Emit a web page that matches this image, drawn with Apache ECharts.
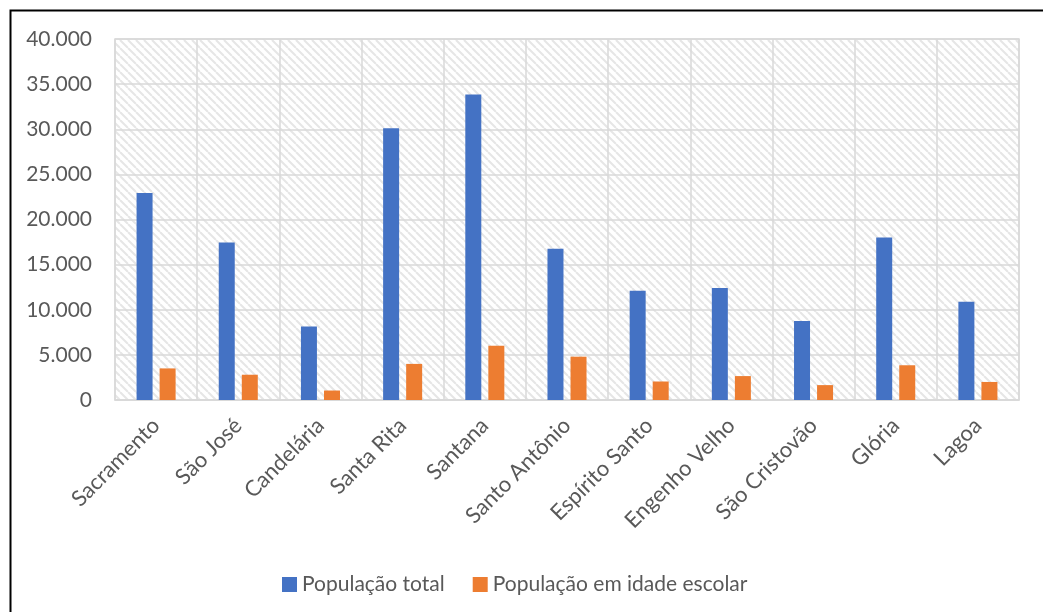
<!DOCTYPE html>
<html>
<head>
<meta charset="utf-8">
<script src="https://cdn.jsdelivr.net/npm/echarts@6/dist/echarts.min.js"></script>
<style>
  html, body { margin: 0; padding: 0; background: #fff; }
  #chart { width: 1043px; height: 612px; }
</style>
</head>
<body>
<div id="chart"></div>
<script>
var bairros = ['Sacramento', 'São José', 'Candelária', 'Santa Rita', 'Santana', 'Santo Antônio',
  'Espírito Santo', 'Engenho Velho', 'São Cristovão', 'Glória', 'Lagoa']
var popTotal = [22950, 17450, 8150, 30100, 33850, 16750, 12100, 12400, 8750, 18000, 10900]
var popEscolar = [3500, 2800, 1050, 4000, 6000, 4800, 2050, 2650, 1650, 3850, 2000]
var yTicks = { min: 0, max: 40000, interval: 5000 }

// hatched background for the plot area
function makeHatch() {
  var s = 8
  var c = document.createElement('canvas')
  c.width = s
  c.height = s
  var ctx = c.getContext('2d')
  ctx.fillStyle = '#ffffff'
  ctx.fillRect(0, 0, s, s)
  ctx.strokeStyle = '#e6e6e6'
  ctx.lineWidth = 2
  for (var k = -s; k <= s; k += s) {
    ctx.beginPath()
    ctx.moveTo(k, 0)
    ctx.lineTo(k + s, s)
    ctx.stroke()
  }
  return c
}

function fmtNum(v) {
  return String(v).replace(/\B(?=(\d{3})+(?!\d))/g, '.')
}

var myChart = echarts.init(document.getElementById('chart'))
var gridColor = '#d9d9d9'
var textColor = '#595959'
var fontName = 'Lato'

var option = {
  animation: false,
  backgroundColor: '#fff',
  graphic: [
    {
      type: 'rect',
      left: 8,
      top: 8,
      shape: { width: 1100, height: 700 },
      style: { fill: 'none', stroke: '#000', lineWidth: 2 },
      silent: true
    }
  ],
  grid: {
    left: 115,
    right: 24,
    top: 39,
    bottom: 212,
    show: true,
    borderColor: gridColor,
    borderWidth: 1.5,
    backgroundColor: { image: makeHatch(), repeat: 'repeat' }
  },
  legend: {
    left: 277,
    top: 569,
    itemWidth: 15,
    itemHeight: 15,
    itemGap: 28,
    icon: 'rect',
    textStyle: { color: textColor, fontSize: 21, fontFamily: fontName }
  },
  xAxis: {
    type: 'category',
    data: bairros,
    axisLine: { lineStyle: { color: gridColor, width: 1.5 } },
    axisTick: { show: false },
    splitLine: { show: true, lineStyle: { color: gridColor, width: 1.5 } },
    axisLabel: {
      rotate: 45,
      margin: 22,
      interval: 0,
      color: textColor,
      fontSize: 22,
      fontFamily: fontName
    }
  },
  yAxis: {
    type: 'value',
    min: yTicks.min,
    max: yTicks.max,
    interval: yTicks.interval,
    axisLine: { show: false },
    axisTick: { show: false },
    splitLine: { lineStyle: { color: gridColor, width: 1.5 } },
    axisLabel: {
      margin: 23,
      color: textColor,
      fontSize: 21,
      fontFamily: fontName,
      formatter: fmtNum
    }
  },
  series: [
    {
      name: 'População total',
      type: 'bar',
      data: popTotal,
      barWidth: 16,
      barGap: '44%',
      itemStyle: { color: '#4472c4' }
    },
    {
      name: 'População em idade escolar',
      type: 'bar',
      data: popEscolar,
      barWidth: 16,
      itemStyle: { color: '#ed7d31' }
    }
  ]
}

myChart.setOption(option)
</script>
</body>
</html>
